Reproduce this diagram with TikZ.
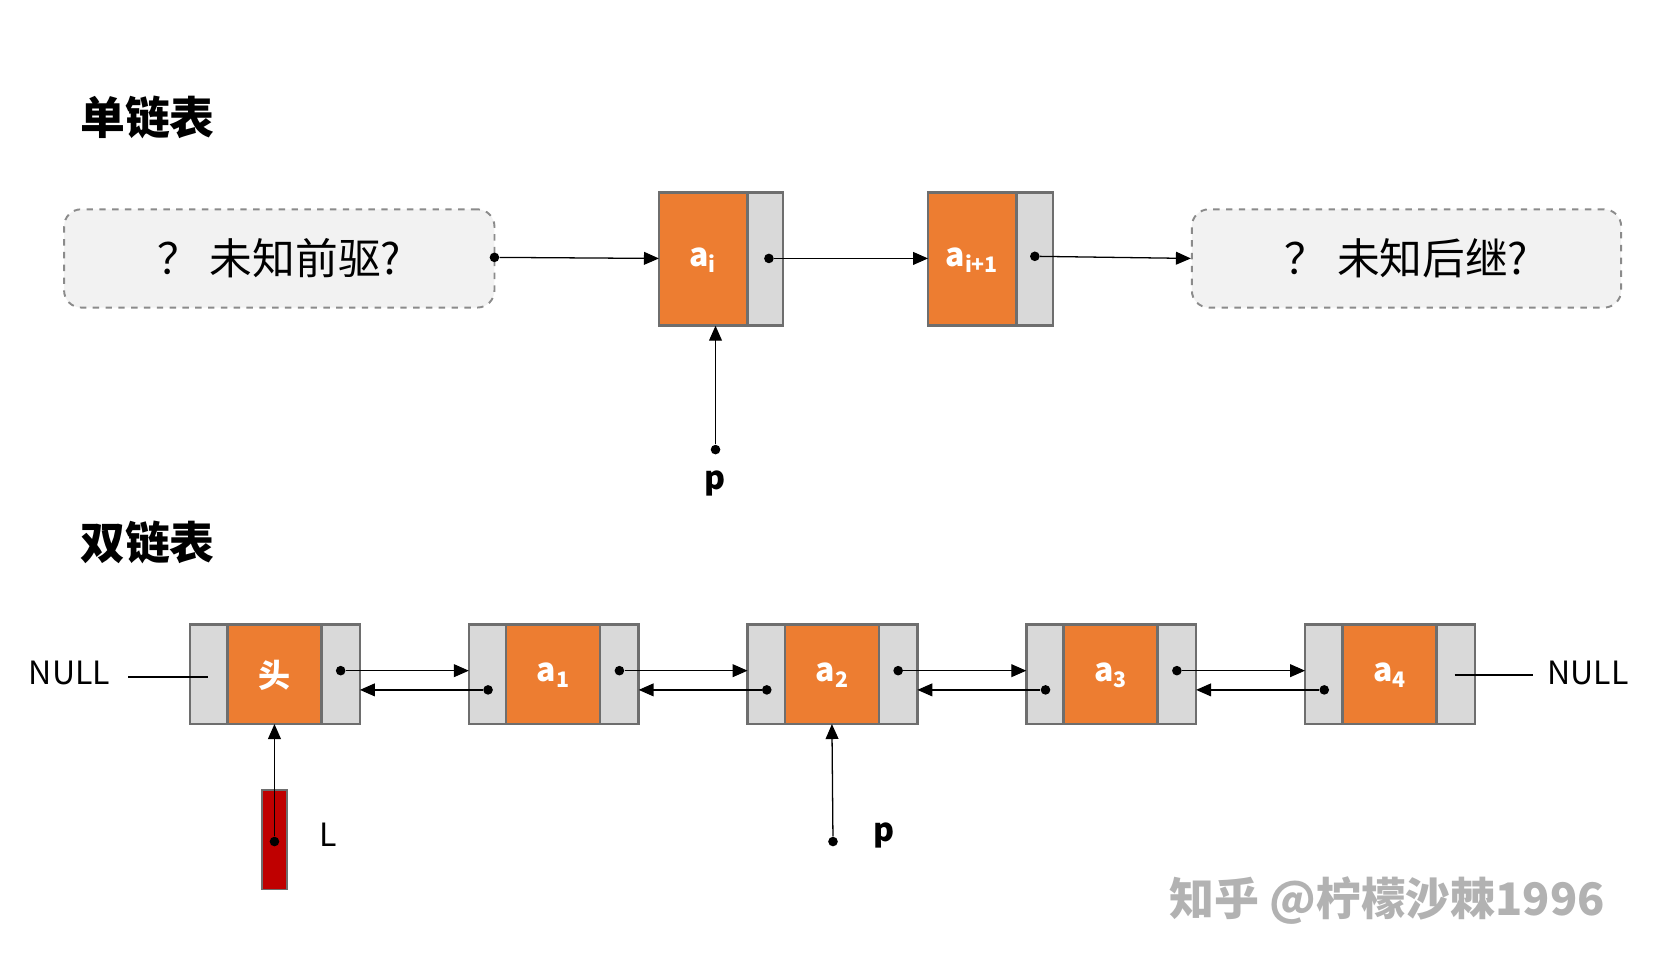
\documentclass[tikz,border=0pt]{standalone}
\usepackage{fontspec}
\setmainfont{Noto Sans CJK SC}
\usetikzlibrary{arrows.meta}
\definecolor{org}{HTML}{ED7D31}
\definecolor{gry}{HTML}{D9D9D9}
\definecolor{bdr}{HTML}{6E6E6E}
\newcommand{\sbs}[1]{\raisebox{-0.35ex}{\fontsize{10}{10}\selectfont #1}}
\begin{document}
\begin{tikzpicture}[x=0.5pt,y=-0.5pt,
  cell/.style={draw=bdr,line width=1.2pt,fill=gry},
  core/.style={draw=bdr,line width=1.2pt,fill=org},
  lbl/.style={text=white,font=\fontsize{15}{15}\selectfont\bfseries},
  arr/.style={-{Triangle[length=7pt,width=6pt]},line width=0.6pt},
  dot/.style={circle,fill=black,inner sep=0pt,minimum size=4.5pt},
  dbox/.style={draw=bdr!80,dashed,line width=0.9pt,fill=gray!10,rounded corners=8pt},
  big/.style={font=\fontsize{20}{20}\selectfont},
  ttl/.style={font=\fontsize{21}{21}\selectfont\bfseries},
  txt/.style={font=\fontsize{15}{15}\selectfont\bfseries}]
\useasboundingbox (0,0) rectangle (1560,903);
\node[ttl,anchor=west] (t1) at (68,110) {单链表};
\node[ttl,anchor=west] (t2) at (68,508) {双链表};
\node[dbox,minimum width=201.5pt,minimum height=46pt,big] (u1) at (261.5,242) {？ 未知前驱?};
\node[dbox,minimum width=201pt,minimum height=46pt,big] (u2) at (1317,242) {？ 未知后继?};
\draw[core] (617,180) rectangle (700,305);
\draw[cell] (700,180) rectangle (733,305);
\draw[core] (869,180) rectangle (952,305);
\draw[cell] (952,180) rectangle (986,305);
\node[lbl] (ai) at (658,244) {a\sbs{i}};
\node[lbl] (ai1) at (910,244) {a\sbs{i+1}};
\coordinate (aiL) at (617,242);
\coordinate (ai1L) at (869,242);
\coordinate (aiB) at (670,305);
\node[dot] (d0) at (463,241) {};
\node[dot] (d1) at (720,242) {};
\node[dot] (d2) at (969,240) {};
\node[dot] (dp) at (670,421) {};
\draw[arr] (d0) -- (aiL);
\draw[arr] (d1) -- (ai1L);
\draw[arr] (d2) -- (u2.west);
\draw[arr] (dp) -- (aiB);
\node[txt] (p1) at (670,453) {p};
\foreach \i/\x/\t in {0/178/头,1/439/a\sbs{1},2/700/a\sbs{2},3/961/a\sbs{3},4/1222/a\sbs{4}}{
  \draw[cell] (\x,585) rectangle ++(35,93);
  \draw[core] (\x+35,585) rectangle ++(88,93);
  \draw[cell] (\x+123,585) rectangle ++(36,93);
  \node[lbl] (n\i) at (\x+79,632) {\t};
  \coordinate (rr\i) at (\x+141,628);
  \coordinate (ll\i) at (\x+18,646);
  \coordinate (in\i) at (\x,628);
  \coordinate (out\i) at (\x+159,646);
  \coordinate (bot\i) at (\x+79,678);
}
\foreach \a/\b in {0/1,1/2,2/3,3/4}{
  \node[dot] (r\a) at (rr\a) {};
  \node[dot] (l\b) at (ll\b) {};
  \draw[arr] (r\a) -- (in\b);
  \draw[arr] (l\b) -- (out\a);
}
\node[font=\fontsize{15}{15}\selectfont] (nl) at (65,630) {NULL};
\node[font=\fontsize{15}{15}\selectfont] (nr) at (1487,630) {NULL};
\coordinate (nl1) at (120,634);
\coordinate (nl2) at (195,634);
\coordinate (nr1) at (1362,632);
\coordinate (nr2) at (1435,632);
\draw[line width=0.7pt] (nl1) -- (nl2);
\draw[line width=0.7pt] (nr1) -- (nr2);
\draw[draw=bdr,fill=red!75!black,line width=0.8pt] (245,740) rectangle (269,833);
\node[dot] (dL) at (257,788) {};
\draw[arr] (dL) -- (bot0);
\node[font=\fontsize{15}{15}\selectfont] (Ll) at (307,782) {L};
\node[dot] (dp2) at (780,788) {};
\draw[arr] (dp2) -- (bot2);
\node[txt] (p2) at (828,782) {p};
\node[text=gray!60,font=\fontsize{21}{21}\selectfont\bfseries,anchor=west] (wm) at (1088,843) {知乎 @柠檬沙棘1996};
\end{tikzpicture}
\end{document}
